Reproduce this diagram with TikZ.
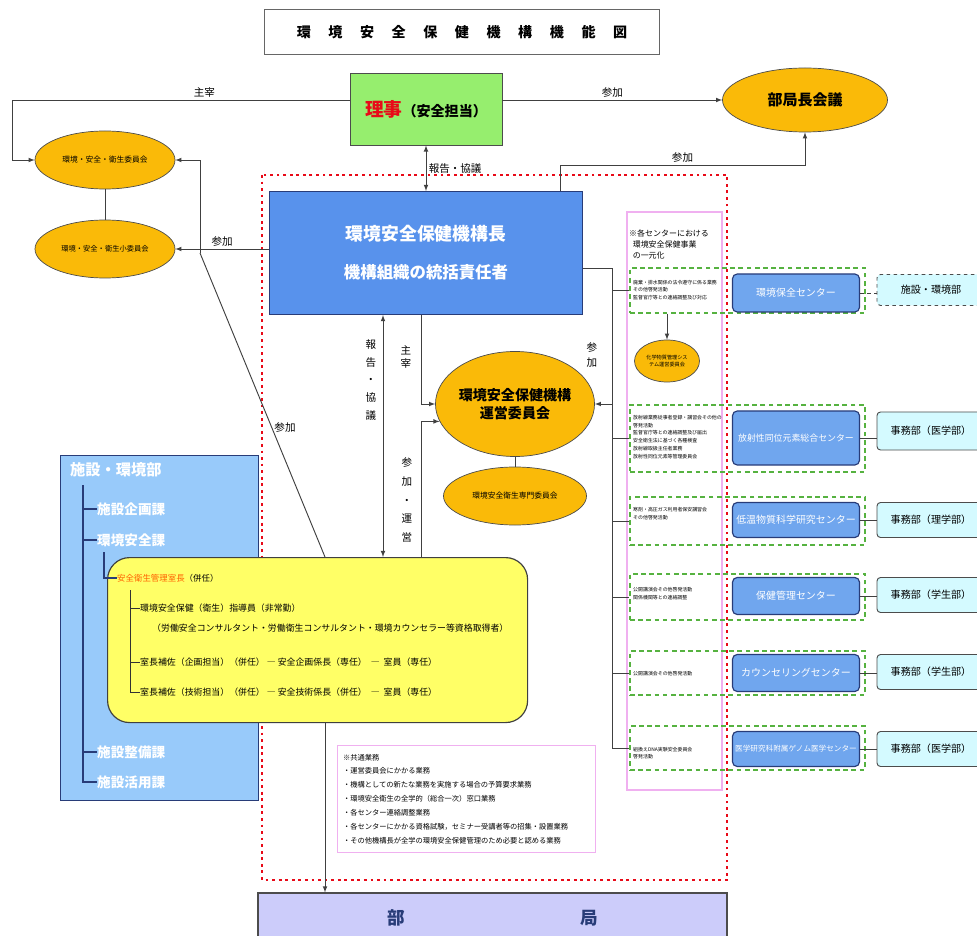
\documentclass[tikz,border=0pt]{standalone}
\usepackage{fontspec}
\setmainfont{Noto Sans CJK JP}
\usetikzlibrary{shapes.geometric}

\definecolor{kgold}{RGB}{250,186,8}
\definecolor{kblue}{RGB}{88,146,236}
\definecolor{kcenter}{RGB}{112,166,238}
\definecolor{kside}{RGB}{152,202,250}
\definecolor{kcyan}{RGB}{212,250,255}
\definecolor{kgreen}{RGB}{150,238,110}
\definecolor{kyellow}{RGB}{255,255,102}
\definecolor{klav}{RGB}{204,204,250}
\definecolor{kpink}{RGB}{240,176,240}
\definecolor{kdash}{RGB}{86,178,64}
\definecolor{kred}{RGB}{232,10,24}
\definecolor{korange}{RGB}{255,96,0}
\definecolor{knavy}{RGB}{40,60,120}

\newcommand{\fs}[2]{\fontsize{#1}{#2}\selectfont}
\newcommand{\tsp}{\hspace{15pt}}

\begin{document}
\begin{tikzpicture}[
    x=0.03cm, y=-0.03cm,
    >=latex,
    line/.style={line width=0.8pt, draw=black!75},
    arrow/.style={->, >=latex, line width=0.8pt, draw=black!75},
    twoway/.style={<->, >=latex, line width=0.8pt, draw=black!75},
    lbl/.style={font=\fs{9}{10}, inner sep=2pt},
    vlbl/.style={font=\fs{9}{15}, align=center, inner sep=0pt},
    gold/.style={ellipse, draw=black!70, line width=0.6pt, fill=kgold,
        align=center, inner sep=0pt},
    ctr/.style={rounded corners=4pt, draw=knavy, line width=1pt, fill=kcenter,
        text=white, minimum width=3.81cm, inner sep=1pt, font=\fs{8.5}{10}},
    jimu/.style={rounded corners=3pt, draw=black!70, line width=0.8pt, fill=kcyan,
        minimum width=3.24cm, minimum height=1.05cm, font=\fs{8.6}{10}},
    grp/.style={draw=kdash, dash pattern=on 4pt off 3pt, line width=1.1pt,
        minimum width=7.05cm, inner sep=0pt},
    tiny/.style={anchor=west, align=left, inner sep=0pt, font=\fs{4.2}{6.6}},
    tree/.style={line width=1pt, draw=knavy},
    ytree/.style={line width=0.8pt, draw=black!80},
    yrow/.style={anchor=west, inner sep=0pt, font=\fs{7.6}{9}}
]
    \useasboundingbox (0,0) rectangle (977,936);

    %------------------------------------------------
    % 見出し
    %------------------------------------------------
    \node[draw=black!60, line width=0.8pt, minimum width=11.85cm, minimum height=1.35cm,
        font=\bfseries\fs{12}{14}] (title) at (462,32)
        {環\tsp 境\tsp 安\tsp 全\tsp 保\tsp 健\tsp 機\tsp 構\tsp 機\tsp 能\tsp 図};

    %------------------------------------------------
    % 枠（機構・各センター）
    %------------------------------------------------
    \draw[kred, line width=2.4pt, dash pattern=on 2.4pt off 3.2pt] (262,175) rectangle (727,880);
    \draw[kpink, line width=1.2pt] (627,212) rectangle (722,790);

    %------------------------------------------------
    % 理事・部局長会議・委員会
    %------------------------------------------------
    \node[draw=black!70, line width=0.8pt, fill=kgreen, minimum width=4.56cm,
        minimum height=2.16cm, font=\bfseries] (riji) at (426,109)
        {{\color{kred}\fs{16}{18}理事}{\fs{12}{14}（安全担当）}};
    \node[gold, minimum width=4.95cm, minimum height=1.92cm,
        font=\bfseries\fs{12.8}{14}] (buchokai) at (805,100) {部局長会議};
    \node[gold, minimum width=4.2cm, minimum height=1.74cm,
        font=\fs{6.6}{8}] (iinkai) at (105,160) {環境・安全・衛生委員会};
    \node[gold, minimum width=4.2cm, minimum height=1.74cm,
        font=\fs{6.2}{8}] (shoiinkai) at (105,249) {環境・安全・衛生小委員会};
    \coordinate (lft) at (12,100);
    \coordinate (hp) at (560,165);

    \draw[arrow] (riji.west |- lft) -- node[lbl, above, pos=0.43] {主宰} (lft) |- (iinkai.west);
    \draw[arrow] (riji.east |- buchokai.west) -- node[lbl, above] {参加} (buchokai.west);
    \draw[line] (iinkai.south) -- (shoiinkai.north);

    %------------------------------------------------
    % 機構長
    %------------------------------------------------
    \node[draw=knavy, line width=1pt, fill=kblue, text=white, minimum width=9.39cm,
        minimum height=3.69cm, align=center, font=\bfseries] (head) at (426,253)
        {\fs{15.2}{18}環境安全保健機構長\\[18pt]\fs{14}{16}機構組織の統括責任者};

    \draw[twoway] (riji.south) -- node[lbl, right] {報告・協議} (head.north);
    \draw[arrow] (hp |- head.north) -- (hp) -| node[lbl, above, pos=0.25] {参加} (buchokai.south);
    \draw[arrow] (head.west |- shoiinkai.east) -- node[lbl, above] {参加} (shoiinkai.east);

    %------------------------------------------------
    % 運営委員会
    %------------------------------------------------
    \node[gold, minimum width=4.29cm, minimum height=3.15cm,
        font=\bfseries\fs{12}{15}] (unei) at (515,404) {環境安全保健機構\\運営委員会};
    \node[gold, minimum width=4.29cm, minimum height=1.74cm,
        font=\fs{6.6}{8}] (senmon) at (515,496) {環境安全衛生専門委員会};
    \draw[line] (unei.south) -- (senmon.north);

    %------------------------------------------------
    % 施設・環境部
    %------------------------------------------------
    \node[draw=knavy, line width=1pt, fill=kside, anchor=north west,
        minimum width=5.94cm, minimum height=10.35cm] (shisetsu) at (60,455) {};
    \node[anchor=west, inner sep=0pt, text=white, font=\bfseries\fs{13}{15}] (bu) at (70,470) {施設・環境部};
    \node[anchor=west, inner sep=0pt, text=white, font=\bfseries\fs{11.6}{13}] (ka1) at (97,509) {施設企画課};
    \node[anchor=west, inner sep=0pt, text=white, font=\bfseries\fs{11.6}{13}] (ka2) at (97,540) {環境安全課};
    \node[anchor=west, inner sep=0pt, text=white, font=\bfseries\fs{11.6}{13}] (ka3) at (97,752) {施設整備課};
    \node[anchor=west, inner sep=0pt, text=white, font=\bfseries\fs{11.6}{13}] (ka4) at (97,782) {施設活用課};
    \coordinate (trunk) at (83,485);
    \coordinate (sub) at (104,552);
    \draw[tree] (trunk) |- (ka4.west);
    \foreach \k in {ka1,ka2,ka3}
        \draw[tree] (trunk |- \k.west) -- (\k.west);

    %------------------------------------------------
    % 安全衛生管理室
    %------------------------------------------------
    \coordinate (k1) at (200,253);
    \coordinate (v1) at (383,0);
    \coordinate (v2) at (421,0);
    \coordinate (v3) at (325,557);
    \draw[line] (k1) -- (v3);
    \draw[arrow] (k1) |- (iinkai.east);
    \node[lbl] at (285,428) {参加};

    \node[draw=black!75, line width=1pt, fill=kyellow, rounded corners=0.66cm,
        anchor=north west, minimum width=12.6cm, minimum height=4.95cm] (shitsu) at (107,557) {};
    \node[yrow, font=\fs{7.2}{9}] (kanri) at (117,578) {{\color{korange}安全衛生管理室長}（併任）};
    \draw[tree] (sub) |- (kanri.west);

    \node[yrow] (r1) at (140,608) {環境安全保健（衛生）指導員（非常勤）};
    \node[yrow] (r1b) at (152,628) {（労働安全コンサルタント・労働衛生コンサルタント・環境カウンセラー等資格取得者）};
    \node[yrow] (r2) at (140,662) {室長補佐（企画担当）（併任）\ ―\ 安全企画係長（専任）\ \ ―\ \ 室員（専任）};
    \node[yrow] (r3) at (140,692) {室長補佐（技術担当）（併任）\ ―\ 安全技術係長（併任）\ \ ―\ \ 室員（専任）};
    \coordinate (ytrunk) at (130,590);
    \draw[ytree] (ytrunk) |- (r3.west);
    \draw[ytree] (ytrunk |- r1.west) -- (r1.west);
    \draw[ytree] (ytrunk |- r2.west) -- (r2.west);

    % 機構長からの線
    \draw[twoway] (head.south -| v1) -- (shitsu.north -| v1);
    \node[vlbl] at (371,380) {報\\告\\・\\協\\議};
    \draw[arrow] (head.south -| v2) |- (unei.west);
    \node[vlbl, font=\fs{9}{11}] at (406,357) {主\\宰};
    \draw[arrow] (shitsu.north -| v2) |- (unei.193);
    \node[vlbl, font=\fs{9}{16}] at (407,500) {参\\加\\・\\運\\営};

    %------------------------------------------------
    % 共通業務・部局
    %------------------------------------------------
    \node[draw=kpink, line width=0.6pt, anchor=north west, minimum width=7.74cm,
        minimum height=3.21cm, text width=7.4cm, align=left, inner sep=4pt,
        font=\fs{6.2}{11.8}] (kyotsu) at (337,745)
        {※共通業務\\
         ・運営委員会にかかる業務\\
         ・機構としての新たな業務を実施する場合の予算要求業務\\
         ・環境安全衛生の全学的（総合一次）窓口業務\\
         ・各センター連絡調整業務\\
         ・各センターにかかる資格試験，セミナー受講者等の招集・設置業務\\
         ・その他機構長が全学の環境安全保健管理のため必要と認める業務};

    \node[draw=black!70, line width=1pt, fill=klav, minimum width=14.07cm,
        minimum height=1.5cm, text=knavy, font=\bfseries\fs{15}{17}] (bukyoku) at (492.5,918)
        {部\hspace{150pt}局};
    \draw[arrow] (shitsu.south -| v3) -- (bukyoku.north -| v3);

    %------------------------------------------------
    % 各センター
    %------------------------------------------------
    \node[tiny, font=\fs{6.8}{9.4}] (note) at (629,244)
        {※各センターにおける\\\ \ 環境安全保健事業\\\ \ の一元化};

    \node[grp, minimum height=1.35cm] (g1) at (747.5,290.5) {};
    \node[grp, minimum height=2.01cm] (g2) at (747.5,438.5) {};
    \node[grp, minimum height=1.44cm] (g3) at (747.5,521) {};
    \node[grp, minimum height=1.38cm] (g4) at (747.5,597) {};
    \node[grp, minimum height=1.32cm] (g5) at (747.5,673) {};
    \node[grp, minimum height=1.32cm] (g6) at (747.5,748) {};

    \node[tiny] at (633,290) {廃棄・排水関係の法令遵守に係る業務\\その他啓発活動\\監督官庁等との連絡調整及び対応};
    \node[tiny] at (633,437) {放射線業務従事者登録・講習会その他の\\啓発活動\\監督官庁等との連絡調整及び届出\\安全衛生法に基づく各種検査\\放射線取扱主任者業務\\放射性同位元素等管理委員会};
    \node[tiny] at (633,514) {寒剤・高圧ガス利用者保安講習会\\その他啓発活動};
    \node[tiny] at (633,594) {公開講演会その他啓発活動\\関係機関等との連絡調整};
    \node[tiny] at (633,674) {公開講演会その他啓発活動};
    \node[tiny] at (633,753) {組換えDNA実験安全委員会\\啓発活動};

    \node[gold, minimum width=1.95cm, minimum height=1.26cm,
        font=\fs{4.4}{6.4}] (chem) at (667,361) {化学物質管理シス\\テム運営委員会};
    \draw[arrow] (chem.north |- g1.south) -- (chem.north);

    \node[ctr, minimum height=1.14cm] (c1) at (796,293) {環境保全センター};
    \node[ctr, minimum height=1.62cm, font=\fs{7.6}{9}] (c2) at (796,438) {放射性同位元素総合センター};
    \node[ctr, minimum height=1.05cm] (c3) at (796,520) {低温物質科学研究センター};
    \node[ctr, minimum height=1.11cm] (c4) at (796,596) {保健管理センター};
    \node[ctr, minimum height=1.11cm] (c5) at (796,673) {カウンセリングセンター};
    \node[ctr, minimum height=1.05cm, font=\fs{6.5}{8}] (c6) at (796,749) {医学研究科附属ゲノム医学センター};

    \node[jimu, minimum height=0.93cm, dashed] (j1) at (931,290) {施設・環境部};
    \node[jimu, minimum height=1.14cm] (j2) at (931,431) {事務部（医学部）};
    \node[jimu] (j3) at (931,520) {事務部（理学部）};
    \node[jimu] (j4) at (931,595) {事務部（学生部）};
    \node[jimu] (j5) at (931,672) {事務部（学生部）};
    \node[jimu] (j6) at (931,749) {事務部（医学部）};

    \draw[line, dashed] (c1.east) -- (c1.east -| j1.west);
    \foreach \i in {2,...,6}
        \draw[line] (c\i.east) -- (c\i.east -| j\i.west);

    % 機構長から各センターへ
    \coordinate (sp) at (612,268);
    \draw[line] (head.east |- sp) -- (sp) -- (sp |- g6.west);
    \foreach \g in {g1,g2,g3,g4,g5,g6}
        \draw[line] (sp |- \g.west) -- (\g.west);
    \draw[arrow] (sp |- unei.east) -- (unei.east);
    \node[vlbl, font=\fs{9}{12}] at (592,355) {参\\加};

\end{tikzpicture}
\end{document}
